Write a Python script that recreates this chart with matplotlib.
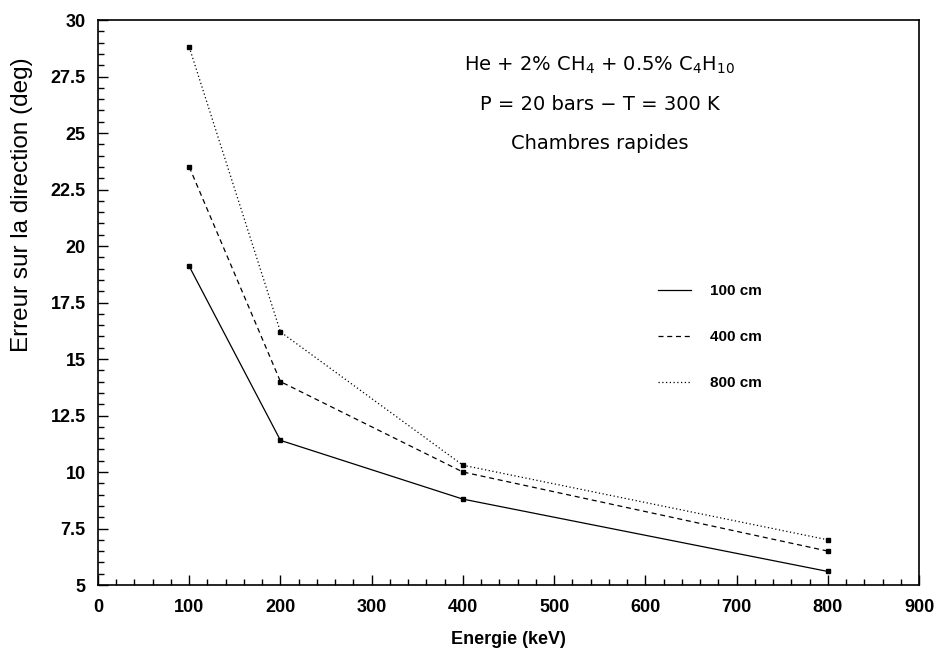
import numpy as np
import matplotlib.pyplot as plt
from matplotlib.ticker import MultipleLocator

energy = [100, 200, 400, 800]
err_100 = [19.1, 11.4, 8.8, 5.6]
err_400 = [23.5, 14.0, 10.0, 6.5]
err_800 = [28.8, 16.2, 10.3, 7.0]
labels = ['100 cm', '400 cm', '800 cm']

plt.rcParams['font.family'] = ['Liberation Sans', 'DejaVu Sans']
plt.rcParams['mathtext.default'] = 'regular'

fig = plt.figure(figsize=(9.37, 6.5), dpi=100)
ax = fig.add_axes([0.1046, 0.1, 0.8762, 0.8692])

styles = ['-', (0, (4, 3)), (0, (1, 2))]
for y, ls, lab in zip([err_100, err_400, err_800], styles, labels):
    ax.plot(energy, y, color='black', linestyle=ls, linewidth=0.9,
            marker='s', markersize=3, label=lab)

ax.set_xlim(0, 900)
ax.set_ylim(5, 30)
ax.xaxis.set_major_locator(MultipleLocator(100))
ax.xaxis.set_minor_locator(MultipleLocator(20))
ax.yaxis.set_major_locator(MultipleLocator(2.5))
ax.yaxis.set_minor_locator(MultipleLocator(0.5))
ax.yaxis.set_major_formatter(plt.FuncFormatter(lambda v, p: f'{v:g}'))
ax.tick_params(which='both', direction='in', top=False, right=False, width=1)
ax.tick_params(which='major', length=7.5, labelsize=13)
ax.tick_params(axis='x', which='major', pad=10)
ax.tick_params(axis='y', which='major', pad=9)
ax.tick_params(which='minor', length=4)
for lbl in ax.get_xticklabels() + ax.get_yticklabels():
    lbl.set_fontweight('bold')
for sp in ax.spines.values():
    sp.set_linewidth(1.2)

ax.set_xlabel('Energie (keV)', fontsize=13, fontweight='bold')
ax.xaxis.set_label_coords(0.5, -0.0956)
ax.xaxis.label.set_va('center')
ax.set_ylabel('Erreur sur la direction (deg)', fontsize=17.5)
ax.yaxis.set_label_coords(-0.0926, 0.674)
ax.yaxis.label.set_va('center')

tx = 0.611
ax.text(tx, 0.920, 'He + 2% CH$_4$ + 0.5% C$_4$H$_{10}$', transform=ax.transAxes,
        ha='center', va='center', fontsize=14, family=['DejaVu Sans'])
ax.text(tx, 0.850, 'P = 20 bars \u2212 T = 300 K', transform=ax.transAxes,
        ha='center', va='center', fontsize=14, family=['DejaVu Sans'])
ax.text(tx, 0.782, 'Chambres rapides', transform=ax.transAxes,
        ha='center', va='center', fontsize=14, family=['DejaVu Sans'])

leg = ax.legend(loc='upper left', bbox_to_anchor=(0.682, 0.533), frameon=False,
                borderpad=0, borderaxespad=0,
                handlelength=2.16, handletextpad=1.24, labelspacing=2.1,
                prop={'weight': 'bold', 'size': 11})
for h in leg.legend_handles:
    h.set_marker('')

fig.savefig('out.png', dpi=100)
